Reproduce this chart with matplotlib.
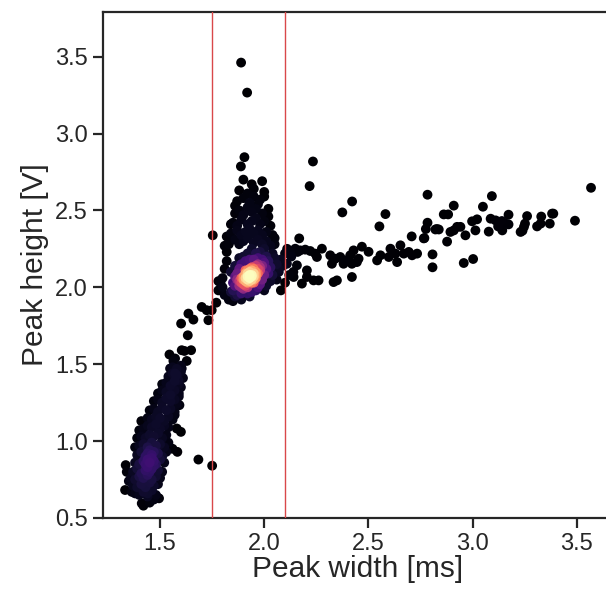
import numpy as np
import matplotlib
matplotlib.use("Agg")
import matplotlib.pyplot as plt

# ---------------- data ----------------
lower_x = [1.42, 1.45, 1.47, 1.44,
           1.38, 1.40, 1.42, 1.44, 1.46, 1.48,
           1.37, 1.39, 1.41, 1.43, 1.45, 1.47, 1.49,
           1.36, 1.38, 1.40, 1.42, 1.44, 1.46, 1.48, 1.50,
           1.37, 1.39, 1.41, 1.43, 1.44, 1.45, 1.46, 1.47, 1.49, 1.51,
           1.38, 1.40, 1.42, 1.43, 1.44, 1.45, 1.46, 1.47, 1.48, 1.50, 1.52,
           1.39, 1.41, 1.43, 1.44, 1.45, 1.46, 1.47, 1.49, 1.51, 1.53,
           1.40, 1.42, 1.44, 1.46, 1.48, 1.50, 1.52, 1.54,
           1.41, 1.43, 1.45, 1.47, 1.49, 1.51, 1.53,
           1.42, 1.44, 1.46, 1.48, 1.50, 1.52, 1.54,
           1.44, 1.46, 1.48, 1.50, 1.52, 1.54, 1.56,
           1.45, 1.47, 1.49, 1.51, 1.53, 1.55, 1.57,
           1.47, 1.49, 1.51, 1.53, 1.55, 1.57,
           1.49, 1.51, 1.53, 1.55, 1.57, 1.59,
           1.51, 1.53, 1.55, 1.57, 1.59,
           1.54, 1.56, 1.58, 1.60,
           1.56, 1.58, 1.60,
           1.38, 1.39, 1.40, 1.41, 1.57, 1.58, 1.59, 1.60, 1.61, 1.35, 1.34]
lower_y = [0.58, 0.60, 0.62, 0.64,
           0.66, 0.65, 0.67, 0.66, 0.68, 0.65,
           0.71, 0.70, 0.72, 0.70, 0.73, 0.71, 0.72,
           0.76, 0.75, 0.77, 0.76, 0.78, 0.75, 0.77, 0.76,
           0.80, 0.82, 0.79, 0.81, 0.83, 0.80, 0.82, 0.84, 0.81, 0.80,
           0.86, 0.85, 0.87, 0.85, 0.88, 0.86, 0.89, 0.87, 0.85, 0.88, 0.86,
           0.91, 0.93, 0.90, 0.92, 0.94, 0.91, 0.93, 0.92, 0.90, 0.93,
           0.97, 0.98, 0.96, 0.99, 0.97, 0.98, 0.96, 0.99,
           1.03, 1.02, 1.04, 1.03, 1.05, 1.02, 1.04,
           1.08, 1.10, 1.09, 1.11, 1.08, 1.10, 1.09,
           1.15, 1.14, 1.16, 1.15, 1.13, 1.16, 1.14,
           1.20, 1.21, 1.19, 1.22, 1.20, 1.21, 1.19,
           1.26, 1.27, 1.25, 1.28, 1.26, 1.27,
           1.31, 1.33, 1.32, 1.30, 1.33, 1.31,
           1.37, 1.38, 1.36, 1.39, 1.37,
           1.42, 1.44, 1.43, 1.45,
           1.48, 1.47, 1.49,
           0.96, 1.02, 1.07, 1.13, 1.17, 1.24, 1.29, 1.35, 1.41, 0.74, 0.80]

branch_x = [1.545, 1.572, 1.604, 1.617, 1.649, 1.633, 1.601, 1.636, 1.660, 1.700,
            1.724, 1.732, 1.748, 1.770, 1.564, 1.628, 1.604, 1.548, 1.572, 1.588,
            1.593, 1.580, 1.600, 1.583, 1.684, 1.750, 1.335, 1.332, 1.412, 1.495,
            1.364, 1.560, 1.490]
branch_y = [1.563, 1.537, 1.591, 1.586, 1.591, 1.688, 1.764, 1.829, 1.790, 1.872,
            1.851, 1.786, 1.851, 1.900, 1.521, 1.521, 1.472, 1.472, 1.440, 1.396,
            1.234, 1.082, 1.060, 0.930, 0.880, 0.840, 0.844, 0.682, 0.595, 0.628,
            0.670, 0.950, 0.630]

core_x = [1.90, 1.91, 1.92, 1.93, 1.94, 1.95, 1.92, 1.91, 1.93, 1.94, 1.95, 1.96,
          1.89, 1.90, 1.92, 1.93, 1.94, 1.95, 1.97, 1.96, 1.91, 1.88, 1.89, 1.92,
          1.93, 1.94, 1.95, 1.97, 1.98, 1.90, 1.91, 1.92, 1.96, 1.97, 1.93, 1.90,
          1.92, 1.94, 1.95, 1.96, 1.98, 1.99, 1.88, 1.89, 1.91, 1.94]
core_y = [2.02, 2.04, 2.05, 2.06, 2.08, 2.09, 2.07, 2.06, 2.04, 2.05, 2.07, 2.10,
          2.03, 2.05, 2.09, 2.10, 2.11, 2.12, 2.12, 2.08, 2.01, 2.01, 2.00, 2.03,
          2.08, 2.07, 2.05, 2.09, 2.13, 2.07, 2.09, 2.11, 2.14, 2.15, 2.12, 1.99,
          2.00, 2.03, 2.03, 2.06, 2.11, 2.14, 2.04, 2.06, 2.11, 2.13]

ring_x = [1.85, 1.86, 1.87, 1.87, 1.88, 1.89, 1.91, 1.93, 1.95, 1.97, 1.99, 2.00,
          2.01, 2.00, 1.99, 1.98, 1.97, 1.96, 1.94, 1.92, 1.89, 1.87, 1.86, 1.84,
          1.85, 1.86, 1.90, 1.92, 1.96, 1.98, 2.01, 2.02, 2.03, 2.02, 1.84, 1.86,
          1.88, 1.94, 2.00, 1.93]
ring_y = [1.98, 2.01, 2.05, 2.09, 2.12, 2.15, 2.17, 2.18, 2.18, 2.19, 2.18, 2.16,
          2.12, 2.08, 2.05, 2.02, 2.00, 1.98, 1.97, 1.96, 1.96, 1.95, 1.94, 1.97,
          2.03, 2.07, 2.20, 2.22, 2.22, 2.23, 2.20, 2.17, 2.13, 2.09, 2.10, 2.14,
          2.19, 2.25, 2.25, 1.94]

column_x = [1.83, 1.86, 1.88, 1.90, 1.92, 1.95, 1.97, 1.99, 2.01, 2.03,
            1.84, 1.87, 1.89, 1.91, 1.93, 1.95, 1.97, 1.99, 2.01,
            1.85, 1.87, 1.89, 1.92, 1.94, 1.96, 1.98, 2.00,
            1.86, 1.88, 1.90, 1.92, 1.94, 1.96, 1.99, 2.02,
            1.87, 1.90, 1.93, 1.95, 1.98, 2.00,
            1.88, 1.92, 1.95, 2.00,
            1.90, 1.94, 1.99, 1.888, 1.905, 1.889, 1.918,
            1.80, 1.80, 1.81, 1.82, 1.82, 1.79, 1.81, 1.83, 1.78, 1.78,
            1.85, 1.89, 2.04, 2.05, 2.05, 2.06, 2.04, 2.03, 2.01, 2.00,
            2.07, 2.06, 1.753,
            1.82, 1.84, 2.03, 2.04, 1.83, 2.02, 1.86, 1.97, 1.81, 2.05]
column_y = [2.29, 2.31, 2.28, 2.30, 2.32, 2.29, 2.31, 2.28, 2.30, 2.27,
            2.35, 2.37, 2.34, 2.36, 2.38, 2.35, 2.37, 2.34, 2.36,
            2.42, 2.40, 2.44, 2.41, 2.43, 2.45, 2.41, 2.43,
            2.48, 2.50, 2.47, 2.52, 2.49, 2.51, 2.48, 2.51,
            2.56, 2.58, 2.55, 2.59, 2.57, 2.59,
            2.63, 2.61, 2.64, 2.62,
            2.70, 2.67, 2.69, 2.786, 2.846, 3.461, 3.266,
            2.00, 2.06, 2.12, 2.17, 2.23, 2.03, 1.95, 1.92, 1.98, 2.04,
            1.91, 1.92, 2.22, 2.19, 2.28, 2.15, 2.08, 2.04, 2.01, 1.98,
            2.10, 2.05, 2.338,
            2.33, 2.41, 2.40, 2.34, 2.28, 2.46, 2.53, 2.54, 2.27, 2.32]

tail_x = [2.234, 2.218, 2.784, 3.093, 3.569, 2.422, 2.375, 2.910, 3.050, 2.582,
          2.553, 2.862, 2.883, 2.784, 2.776, 2.829, 3.492, 3.173, 3.262, 3.330,
          3.382, 3.022, 2.998, 3.087, 3.141, 3.173, 3.252, 3.240, 3.310, 3.371,
          2.942, 2.910, 2.966, 3.014, 3.078, 3.123, 2.878, 2.808, 2.808, 2.958,
          3.003, 2.769, 2.708, 2.168, 2.766, 2.822, 2.838, 2.894, 2.926, 3.111,
          3.127, 3.143, 3.159, 3.231, 3.247, 3.327, 3.388,
          2.173, 2.125, 2.149, 2.197, 2.221, 2.245, 2.277, 2.253,
          2.317, 2.341, 2.365, 2.389, 2.413, 2.429, 2.453, 2.469, 2.501, 2.325,
          2.381, 2.421, 2.445, 2.542, 2.558, 2.606, 2.630, 2.638, 2.654, 2.670,
          2.694, 2.710, 2.734, 2.598,
          2.109, 2.157, 2.205, 2.237, 2.261, 2.333, 2.349, 2.421, 2.141, 2.181,
          2.205, 2.08, 2.10, 2.09, 2.12, 2.13, 2.11, 2.10, 2.08, 2.07, 2.14, 2.16]
tail_y = [2.818, 2.658, 2.602, 2.593, 2.647, 2.558, 2.487, 2.531, 2.524, 2.476,
          2.396, 2.474, 2.474, 2.420, 2.379, 2.379, 2.433, 2.472, 2.463, 2.460,
          2.479, 2.442, 2.429, 2.446, 2.431, 2.409, 2.414, 2.368, 2.396, 2.414,
          2.393, 2.370, 2.338, 2.370, 2.362, 2.396, 2.297, 2.214, 2.130, 2.158,
          2.184, 2.320, 2.331, 2.318, 2.318, 2.376, 2.376, 2.360, 2.393, 2.435,
          2.403, 2.370, 2.414, 2.360, 2.393, 2.414, 2.479,
          2.240, 2.229, 2.251, 2.245, 2.236, 2.219, 2.251, 2.197,
          2.208, 2.186, 2.197, 2.175, 2.208, 2.240, 2.186, 2.264, 2.231, 2.153,
          2.153, 2.153, 2.164, 2.175, 2.208, 2.251, 2.219, 2.164, 2.273, 2.219,
          2.230, 2.208, 2.219, 2.197,
          2.153, 2.143, 2.110, 2.045, 2.045, 2.034, 2.045, 2.067, 2.067, 2.024,
          2.067, 2.18, 2.22, 2.14, 2.08, 2.20, 2.25, 2.03, 1.98, 2.12, 2.10, 2.23]

x_ticks = [1.5, 2.0, 2.5, 3.0, 3.5]
y_ticks = [0.5, 1.0, 1.5, 2.0, 2.5, 3.0, 3.5]
cut_lines = [1.75, 2.1]
x_label = "Peak width [ms]"
y_label = "Peak height [V]"

# ---------------- plot ----------------
x = np.array(lower_x + branch_x + core_x + ring_x + column_x + tail_x)
y = np.array(lower_y + branch_y + core_y + ring_y + column_y + tail_y)

# point density (gaussian kernel in screen-like units)
sx, sy = x * 208.0, y * 154.0
d2 = (sx[:, None] - sx[None, :]) ** 2 + (sy[:, None] - sy[None, :]) ** 2
dens = np.exp(-d2 / (2 * 9.0 ** 2)).sum(axis=1)
dens = (dens - dens.min()) / (dens.max() - dens.min())
shade = dens ** 2.3
order = np.argsort(shade)

plt.rcParams['font.family'] = ['Liberation Sans', 'DejaVu Sans']
fig = plt.figure(figsize=(6.06, 5.92), dpi=100)
ax = fig.add_axes([103 / 606, 74 / 592, 1 - 103 / 606 + 0.01, (518 - 12) / 592])

ax.scatter(x[order], y[order], c=shade[order], cmap='magma', vmin=0, vmax=1,
           s=50, edgecolors='none', zorder=2)
for v in cut_lines:
    ax.axvline(v, color='#d9484a', lw=1.0, zorder=3)

ax.set_xlim(1.226, 3.67)
ax.set_ylim(0.5, 3.79)
ax.set_xticks(x_ticks)
ax.set_yticks(y_ticks)
ax.set_xlabel(x_label, fontsize=21.5, color='#262626', labelpad=0)
ax.set_ylabel(y_label, fontsize=21.5, color='#262626', labelpad=4)
ax.tick_params(labelsize=17, colors='#262626', length=7, width=1.6, pad=4)
for s in ax.spines.values():
    s.set_linewidth(1.6)
    s.set_color('#262626')
ax.spines['right'].set_visible(False)

fig.savefig('out.png', dpi=100)
